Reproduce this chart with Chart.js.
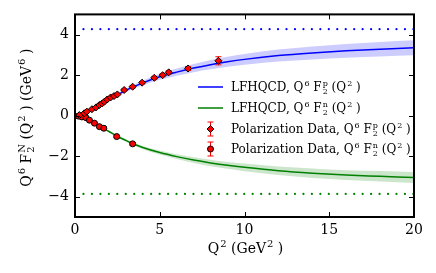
<!DOCTYPE html>
<html>
<head>
<meta charset="utf-8">
<script src="https://cdn.jsdelivr.net/npm/chart.js@4.4.0/dist/chart.umd.min.js"></script>
<style>
  html, body { margin: 0; padding: 0; background: #fff; }
  #wrap { width: 436px; height: 273px; }
</style>
</head>
<body>
<div id="wrap"><canvas id="chart" width="436" height="273"></canvas></div>
<script>
// Model curves (LFHQCD) sampled at Q^2
const curveX = [0, 0.5, 1, 1.5, 2, 2.5, 3, 3.5, 4, 5, 6, 7, 8, 9, 10, 12, 14, 16, 18, 20];
const protonMid = [0, 0.1, 0.3, 0.55, 0.8, 1.03, 1.25, 1.44, 1.62, 1.92, 2.15, 2.35, 2.52, 2.66, 2.78, 2.97, 3.1, 3.2, 3.28, 3.35];
const protonUp = [0, 0.11, 0.33, 0.59, 0.86, 1.10, 1.34, 1.54, 1.74, 2.07, 2.33, 2.55, 2.75, 2.91, 3.05, 3.27, 3.42, 3.54, 3.64, 3.72];
const protonLo = [0, 0.09, 0.27, 0.51, 0.74, 0.96, 1.16, 1.34, 1.50, 1.77, 1.97, 2.15, 2.29, 2.41, 2.51, 2.67, 2.78, 2.86, 2.92, 2.98];
const neutronMid = [0, -0.08, -0.3, -0.55, -0.78, -1.02, -1.22, -1.41, -1.57, -1.82, -2.02, -2.19, -2.33, -2.45, -2.55, -2.72, -2.84, -2.93, -2.99, -3.05];
const neutronUp = [0, -0.07, -0.28, -0.52, -0.74, -0.97, -1.16, -1.34, -1.49, -1.72, -1.90, -2.05, -2.17, -2.28, -2.36, -2.51, -2.61, -2.69, -2.73, -2.78];
const neutronLo = [0, -0.09, -0.32, -0.58, -0.82, -1.07, -1.28, -1.48, -1.65, -1.92, -2.14, -2.33, -2.49, -2.62, -2.74, -2.93, -3.07, -3.17, -3.25, -3.32];

// asymptotic limits (dotted)
const limitX = [0, 20];
const protonLimit = [4.27, 4.27];
const neutronLimit = [-3.86, -3.86];

// Polarization data
const pDataX = [0.26, 0.55, 0.7, 1.0, 1.24, 1.44, 1.6, 1.73, 1.9, 2.1, 2.3, 2.5, 2.9, 3.4, 3.96, 4.68, 5.17, 5.53, 6.67, 8.46];
const pDataY = [0.03, 0.12, 0.2, 0.32, 0.41, 0.53, 0.6, 0.69, 0.8, 0.9, 0.97, 1.05, 1.27, 1.43, 1.63, 1.87, 2.0, 2.14, 2.33, 2.71];
const pDataErr = [0.03, 0.03, 0.03, 0.03, 0.03, 0.04, 0.04, 0.04, 0.04, 0.05, 0.05, 0.05, 0.05, 0.06, 0.06, 0.07, 0.07, 0.08, 0.1, 0.2];
const nDataX = [0.2, 0.4, 0.65, 0.85, 1.15, 1.44, 1.7, 2.46, 3.4];
const nDataY = [-0.02, -0.06, -0.1, -0.22, -0.37, -0.54, -0.62, -1.03, -1.39];
const nDataErr = [0.02, 0.02, 0.03, 0.03, 0.04, 0.04, 0.05, 0.06, 0.07];

const xTicks = [0, 5, 10, 15, 20];
const yTicks = [-4, -2, 0, 2, 4];

const SERIF = '"DejaVu Serif", serif';

function pts(xs, ys) {
    return xs.map((x, i) => ({ x: x, y: ys[i] }));
}

// rich text: strings, or {sup, sub} parts
function richWidth(ctx, parts, size) {
    let w = 0;
    parts.forEach(p => {
        if (typeof p === 'string') {
            ctx.font = size + 'px ' + SERIF;
            w += ctx.measureText(p).width;
        } else {
            ctx.font = Math.round(size * 0.7) + 'px ' + SERIF;
            w += Math.max(p.sup ? ctx.measureText(p.sup).width : 0, p.sub ? ctx.measureText(p.sub).width : 0);
        }
    });
    return w;
}

function drawRich(ctx, parts, x, y, size) {
    ctx.textBaseline = 'alphabetic';
    ctx.textAlign = 'left';
    ctx.fillStyle = '#000';
    let cx = x;
    parts.forEach(p => {
        if (typeof p === 'string') {
            ctx.font = size + 'px ' + SERIF;
            ctx.fillText(p, cx, y);
            cx += ctx.measureText(p).width;
        } else {
            ctx.font = Math.round(size * 0.7) + 'px ' + SERIF;
            let w = 0;
            if (p.sup) { ctx.fillText(p.sup, cx + 1, y - size * 0.45); w = ctx.measureText(p.sup).width + 1; }
            if (p.sub) { ctx.fillText(p.sub, cx + 1, y + size * 0.22); w = Math.max(w, ctx.measureText(p.sub).width + 1); }
            cx += w;
        }
    });
}

const labelP = ['Q', { sup: '6' }, ' F', { sub: '2', sup: 'p' }, ' (Q', { sup: '2' }, ' )'];
const labelN = ['Q', { sup: '6' }, ' F', { sub: '2', sup: 'n' }, ' (Q', { sup: '2' }, ' )'];
const legendItems = [
    { kind: 'line', color: 'blue', parts: ['LFHQCD, '].concat(labelP) },
    { kind: 'line', color: 'green', parts: ['LFHQCD, '].concat(labelN) },
    { kind: 'diamond', parts: ['Polarization Data, '].concat(labelP) },
    { kind: 'circle', parts: ['Polarization Data, '].concat(labelN) }
];
const xTitle = ['Q', { sup: '2' }, ' (GeV', { sup: '2' }, ' )'];
const yTitle = ['Q', { sup: '6' }, ' F', { sub: '2', sup: 'N' }, ' (Q', { sup: '2' }, ' ) (GeV', { sup: '6' }, ' )'];

function drawErrBar(ctx, x, y0, y1) {
    ctx.beginPath();
    ctx.moveTo(x, y0); ctx.lineTo(x, y1);
    ctx.moveTo(x - 3, y0); ctx.lineTo(x + 3, y0);
    ctx.moveTo(x - 3, y1); ctx.lineTo(x + 3, y1);
    ctx.stroke();
}

const errorBars = {
    id: 'errorBars',
    beforeDatasetDraw(chart, args) {
        const ds = chart.data.datasets[args.index];
        if (!ds.errors) return;
        const ctx = chart.ctx;
        const xs = chart.scales.x, ys = chart.scales.y;
        ctx.save();
        ctx.strokeStyle = 'red';
        ctx.lineWidth = 1;
        ds.data.forEach((p, i) => {
            const px = xs.getPixelForValue(p.x);
            drawErrBar(ctx, px, ys.getPixelForValue(p.y + ds.errors[i]), ys.getPixelForValue(p.y - ds.errors[i]));
        });
        ctx.restore();
    }
};

const frame = {
    id: 'frame',
    afterDraw(chart) {
        const ctx = chart.ctx;
        const a = chart.chartArea;
        const xs = chart.scales.x, ys = chart.scales.y;
        ctx.save();
        ctx.strokeStyle = '#000';
        ctx.lineWidth = 1;
        ctx.beginPath();
        xTicks.forEach(v => {
            const px = Math.round(xs.getPixelForValue(v)) + 0.5;
            ctx.moveTo(px, a.bottom); ctx.lineTo(px, a.bottom - 5);
            ctx.moveTo(px, a.top); ctx.lineTo(px, a.top + 5);
        });
        yTicks.forEach(v => {
            const py = Math.round(ys.getPixelForValue(v)) + 0.5;
            ctx.moveTo(a.left, py); ctx.lineTo(a.left + 5, py);
            ctx.moveTo(a.right, py); ctx.lineTo(a.right - 5, py);
        });
        ctx.stroke();
        ctx.lineWidth = 2;
        ctx.strokeRect(a.left, a.top, a.right - a.left, a.bottom - a.top);

        // axis titles
        const xw = richWidth(ctx, xTitle, 14);
        drawRich(ctx, xTitle, (a.left + a.right) / 2 - xw / 2, 253, 14);
        const yw = richWidth(ctx, yTitle, 14);
        ctx.translate(31, (a.top + a.bottom) / 2 + 4);
        ctx.rotate(-Math.PI / 2);
        drawRich(ctx, yTitle, -yw / 2, 0, 14);
        ctx.restore();

        // legend
        ctx.save();
        const lx = 198, ly = [87, 108, 129, 149];
        legendItems.forEach((it, i) => {
            const y = ly[i];
            if (it.kind === 'line') {
                ctx.strokeStyle = it.color;
                ctx.lineWidth = 1.5;
                ctx.beginPath();
                ctx.moveTo(lx, y); ctx.lineTo(lx + 25, y);
                ctx.stroke();
            } else {
                const mx = lx + 12.5;
                ctx.strokeStyle = 'red';
                ctx.lineWidth = 1;
                drawErrBar(ctx, mx, y - 7, y + 7);
                ctx.fillStyle = 'red';
                ctx.strokeStyle = '#000';
                ctx.beginPath();
                if (it.kind === 'diamond') {
                    ctx.moveTo(mx, y - 3.5); ctx.lineTo(mx + 3.5, y); ctx.lineTo(mx, y + 3.5); ctx.lineTo(mx - 3.5, y); ctx.closePath();
                } else {
                    ctx.arc(mx, y, 3, 0, Math.PI * 2);
                }
                ctx.fill();
                ctx.stroke();
            }
            drawRich(ctx, it.parts, lx + 33, y + 4, 12);
        });
        ctx.restore();
    }
};

const ctx = document.getElementById('chart').getContext('2d');
new Chart(ctx, {
    type: 'scatter',
    data: {
        datasets: [
            {
                label: 'proton band up', data: pts(curveX, protonUp), showLine: true,
                borderWidth: 0, pointRadius: 0, fill: '+1',
                backgroundColor: 'rgba(0, 0, 255, 0.2)', cubicInterpolationMode: 'monotone', order: 10
            },
            {
                label: 'proton band lo', data: pts(curveX, protonLo), showLine: true,
                borderWidth: 0, pointRadius: 0, fill: false, cubicInterpolationMode: 'monotone', order: 10
            },
            {
                label: 'neutron band up', data: pts(curveX, neutronUp), showLine: true,
                borderWidth: 0, pointRadius: 0, fill: '+1',
                backgroundColor: 'rgba(0, 128, 0, 0.2)', cubicInterpolationMode: 'monotone', order: 10
            },
            {
                label: 'neutron band lo', data: pts(curveX, neutronLo), showLine: true,
                borderWidth: 0, pointRadius: 0, fill: false, cubicInterpolationMode: 'monotone', order: 10
            },
            {
                label: 'LFHQCD p', data: pts(curveX, protonMid), showLine: true,
                borderColor: 'blue', borderWidth: 1.5, pointRadius: 0, cubicInterpolationMode: 'monotone', order: 5
            },
            {
                label: 'LFHQCD n', data: pts(curveX, neutronMid), showLine: true,
                borderColor: 'green', borderWidth: 1.5, pointRadius: 0, cubicInterpolationMode: 'monotone', order: 5
            },
            {
                label: 'limit p', data: pts(limitX, protonLimit), showLine: true,
                borderColor: 'blue', borderWidth: 2.2, borderDash: [0.01, 8.45], borderCapStyle: 'round', pointRadius: 0, order: 5
            },
            {
                label: 'limit n', data: pts(limitX, neutronLimit), showLine: true,
                borderColor: 'green', borderWidth: 2.2, borderDash: [0.01, 8.45], borderCapStyle: 'round', pointRadius: 0, order: 5
            },
            {
                label: 'Polarization p', data: pts(pDataX, pDataY), errors: pDataErr,
                pointStyle: 'rectRot', pointRadius: 3.5, backgroundColor: 'red', borderColor: '#000', borderWidth: 1, order: 1
            },
            {
                label: 'Polarization n', data: pts(nDataX, nDataY), errors: nDataErr,
                pointStyle: 'circle', pointRadius: 3, backgroundColor: 'red', borderColor: '#000', borderWidth: 1, order: 1
            }
        ]
    },
    options: {
        responsive: false,
        animation: false,
        layout: { padding: { top: 14, right: 22, left: 0, bottom: 0 } },
        plugins: { legend: { display: false }, tooltip: { enabled: false } },
        scales: {
            x: {
                type: 'linear', min: 0, max: 20,
                afterBuildTicks: s => { s.ticks = xTicks.map(v => ({ value: v })); },
                afterFit: s => { s.height = 56; },
                grid: { display: false, drawTicks: false },
                border: { display: false },
                ticks: { padding: 5, color: '#000', font: { family: SERIF, size: 14 } }
            },
            y: {
                type: 'linear', min: -5, max: 5,
                afterBuildTicks: s => { s.ticks = yTicks.map(v => ({ value: v })); },
                afterFit: s => { s.width = 75; },
                grid: { display: false, drawTicks: false },
                border: { display: false },
                ticks: {
                    padding: 6, color: '#000', font: { family: SERIF, size: 14 },
                    callback: v => (v < 0 ? '\u2212' + Math.abs(v) : String(v))
                }
            }
        }
    },
    plugins: [errorBars, frame]
});
</script>
</body>
</html>
